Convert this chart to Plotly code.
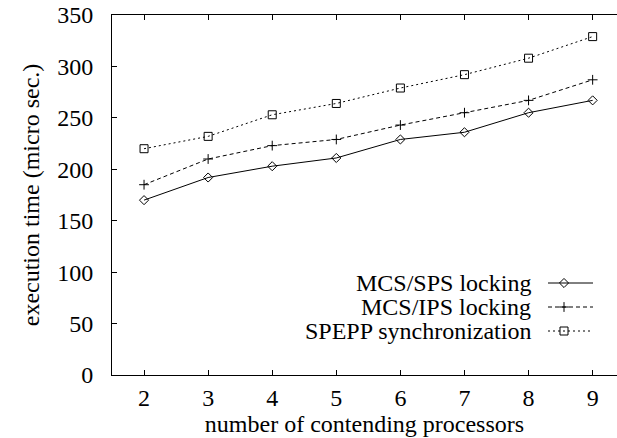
import plotly.graph_objects as go

processors = [2, 3, 4, 5, 6, 7, 8, 9]
mcs_sps = [170, 192, 203, 211, 229, 236, 255, 267]
mcs_ips = [185, 210, 223, 229, 243, 255, 267, 287]
spepp = [220, 232, 253, 264, 279, 292, 308, 329]

series_names = ["MCS/SPS locking", "MCS/IPS locking", "SPEPP synchronization"]
series_values = [mcs_sps, mcs_ips, spepp]
dashes = ["solid", "4px,3px", "2px,3px"]
symbols = ["diamond-open", "cross-thin-open", "square-open"]
msizes = [7, 7, 8]

y_ticks = [0, 50, 100, 150, 200, 250, 300, 350]

FONT = "Liberation Serif"
FS = 24

fig = go.Figure()
for name, vals, d, s, ms in zip(series_names, series_values, dashes, symbols, msizes):
    fig.add_trace(go.Scatter(
        x=processors, y=vals, mode="lines+markers", name=name,
        line=dict(color="black", width=1, dash=d),
        marker=dict(symbol=s, size=ms, color="black", line=dict(color="black", width=1)),
        showlegend=False, cliponaxis=False,
    ))

# manual legend (text left, sample right), in pixel-like overlay coordinates
leg_rows_y = [283, 307, 331]
leg_text_right = 533
leg_line = (548, 593)
leg_mark_x = 564
for name, y, d, s, ms in zip(series_names, leg_rows_y, dashes, symbols, msizes):
    fig.add_trace(go.Scatter(
        x=list(leg_line), y=[y, y], mode="lines", xaxis="x2", yaxis="y2",
        line=dict(color="black", width=1, dash=d), showlegend=False, hoverinfo="skip",
    ))
    fig.add_trace(go.Scatter(
        x=[leg_mark_x], y=[y], mode="markers", xaxis="x2", yaxis="y2",
        marker=dict(symbol=s, size=ms, color="black", line=dict(color="black", width=1)),
        showlegend=False, hoverinfo="skip",
    ))
    fig.add_annotation(x=leg_text_right, y=y, xref="x2", yref="y2", text=name,
                       showarrow=False, xanchor="right", yanchor="middle",
                       font=dict(family=FONT, size=FS, color="black"))

fig.update_layout(
    width=617, height=438,
    margin=dict(l=112, r=0, t=15, b=63),
    paper_bgcolor="white", plot_bgcolor="white",
    font=dict(family=FONT, size=FS, color="black"),
    showlegend=False,
    xaxis=dict(
        range=[1.5, 9.38], tickvals=processors, ticks="inside", ticklen=5,
        tickcolor="black", showline=True, linecolor="black", linewidth=1,
        mirror="ticks", showgrid=False, zeroline=False, automargin=False,
        title=dict(text="number of contending processors", standoff=0,
                   font=dict(family=FONT, size=FS)),
        tickfont=dict(family=FONT, size=FS), ticklabelstandoff=1,
    ),
    yaxis=dict(
        range=[0, 350], tickvals=y_ticks, ticks="inside", ticklen=5,
        tickcolor="black", showline=True, linecolor="black", linewidth=1,
        mirror=False, showgrid=False, zeroline=False, automargin=False,
        title=dict(text="execution time (micro sec.)", standoff=10,
                   font=dict(family=FONT, size=FS)),
        tickfont=dict(family=FONT, size=FS), ticklabelstandoff=13,
    ),
    xaxis2=dict(overlaying="x", range=[112, 617], visible=False, anchor="y2"),
    yaxis2=dict(overlaying="y", range=[375, 15], visible=False, anchor="x2"),
)

fig.write_html(
    "out.html",
    config={"displayModeBar": False},
    post_script="document.body.style.margin='0';document.body.style.overflow='hidden';",
)
